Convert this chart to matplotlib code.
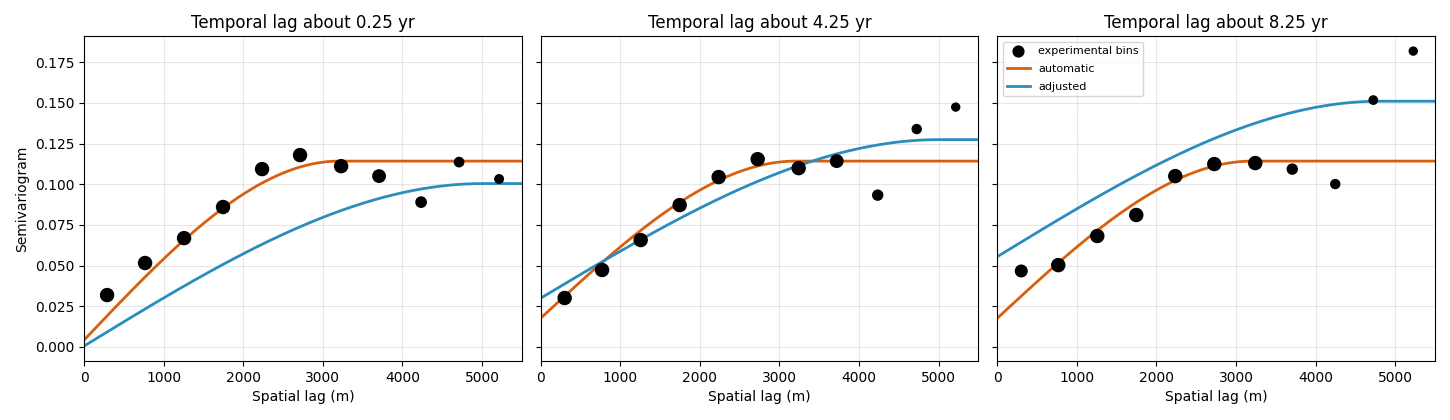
import numpy as np
import matplotlib.pyplot as plt

# temporal lags shown in the three panels
temporal_lags = ["0.25", "4.25", "8.25"]

# experimental bins (spatial lag in m, semivariance, marker size)
bin_lag_1 = [289, 766, 1256, 1746, 2236, 2713, 3229, 3706, 4234, 4711, 5214]
bin_gamma_1 = [0.0319, 0.0516, 0.0669, 0.0860, 0.1093, 0.1179, 0.1111, 0.1050, 0.0890, 0.1136, 0.1032]
bin_size_1 = [88, 88, 88, 88, 88, 88, 88, 80, 55, 45, 38]

bin_lag_2 = [301, 771, 1256, 1746, 2236, 2726, 3241, 3719, 4234, 4724, 5214]
bin_gamma_2 = [0.0301, 0.0473, 0.0657, 0.0872, 0.1044, 0.1154, 0.1099, 0.1142, 0.0933, 0.1339, 0.1474]
bin_size_2 = [88, 88, 88, 88, 88, 88, 88, 80, 52, 42, 33]

bin_lag_3 = [301, 766, 1256, 1746, 2236, 2726, 3241, 3706, 4246, 4724, 5226]
bin_gamma_3 = [0.0467, 0.0503, 0.0682, 0.0811, 0.1050, 0.1124, 0.1130, 0.1093, 0.1001, 0.1517, 0.1818]
bin_size_3 = [70, 88, 88, 88, 88, 88, 88, 52, 42, 36, 33]

# fitted spherical models per panel: nugget, sill, range (m)
auto_nugget = [0.0043, 0.0177, 0.0177]
auto_sill = [0.1142, 0.1142, 0.1142]
auto_range = [3200, 3200, 3200]

adj_nugget = [0.0006, 0.0300, 0.0555]
adj_sill = [0.1004, 0.1274, 0.1510]
adj_range = [5000, 5000, 4800]

bins = [(bin_lag_1, bin_gamma_1, bin_size_1),
        (bin_lag_2, bin_gamma_2, bin_size_2),
        (bin_lag_3, bin_gamma_3, bin_size_3)]


def spherical(h, nugget, sill, rng):
    r = np.clip(h / rng, 0, 1)
    return nugget + (sill - nugget) * (1.5 * r - 0.5 * r ** 3)


fig, axes = plt.subplots(1, 3, figsize=(14.5, 4.2), dpi=100, sharey=True)
fig.subplots_adjust(left=0.058, right=0.9897, top=0.914, bottom=0.1405, wspace=0.043)

h = np.linspace(0, 5500, 400)
for i, ax in enumerate(axes):
    lag, gam, size = bins[i]
    ax.scatter(lag, gam, s=size, color='black', zorder=3, label='experimental bins')
    ax.plot(h, spherical(h, auto_nugget[i], auto_sill[i], auto_range[i]),
            color='#d95f0e', lw=2, label='automatic')
    ax.plot(h, spherical(h, adj_nugget[i], adj_sill[i], adj_range[i]),
            color='#2b8cbe', lw=2, label='adjusted')
    ax.set_title(f"Temporal lag about {temporal_lags[i]} yr", fontsize=12)
    ax.set_xlabel("Spatial lag (m)")
    ax.set_xlim(0, 5500)
    ax.grid(True, alpha=0.3)

axes[0].set_ylim(-0.0086, 0.191)
axes[0].set_ylabel("Semivariogram")
axes[2].legend(loc='upper left', fontsize=8, labelspacing=0.7)

fig.savefig("out.png")
